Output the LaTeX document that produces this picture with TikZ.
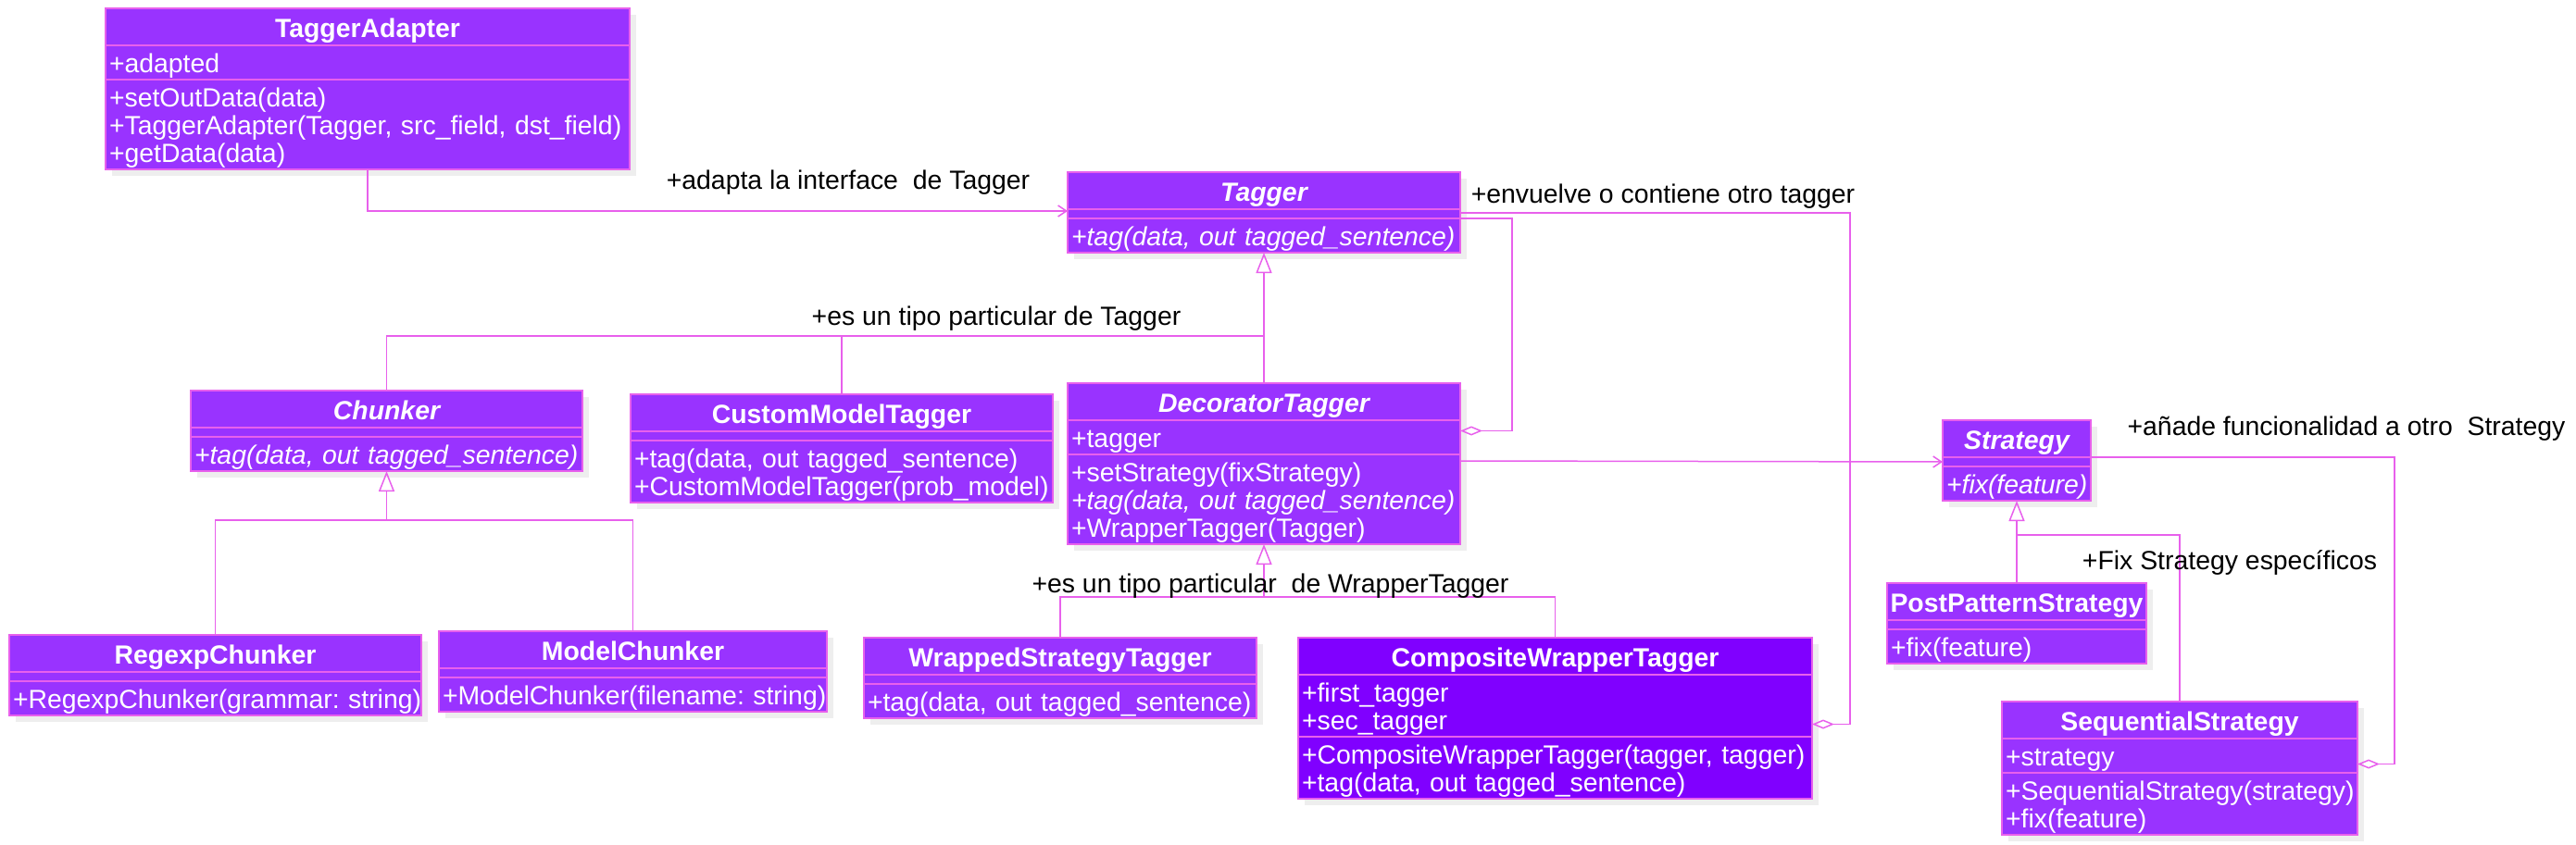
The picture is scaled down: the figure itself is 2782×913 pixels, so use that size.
\documentclass[tikz,border=0pt]{standalone}
\usepackage{fontspec}
\setmainfont{Liberation Sans}
\usepackage{tikz}
\usetikzlibrary{arrows.meta,shadows}

\definecolor{umlfill}{RGB}{153,51,255}
\definecolor{umldark}{RGB}{128,0,255}
\definecolor{umlline}{RGB}{232,96,236}
\definecolor{umlshade}{RGB}{238,238,238}

\newcommand{\clsfont}{\fontsize{28.4}{30}\selectfont\frenchspacing}
\newcommand{\compart}[1]{\if\relax\detokenize{#1}\relax\else\raisebox{-5pt}[\height][\depth]{\begin{tabular}{@{}l@{}}#1\end{tabular}}\fi}
% one class box: header, attributes, operations
\newcommand{\umlclass}[7][]{%
	\pgfmathsetmacro\partw{#4-8}%
	\node[clshead, minimum width=#4pt, #1] (#2) at (#3) {#5};
	\node[clspart, text width=\partw pt, #1] (#2-attr) at (#2.south) {\compart{#6}};
	\node[clspart, text width=\partw pt, #1] (#2-ops) at (#2-attr.south) {\compart{#7}};
}

\tikzset{
	clsbase/.style={draw=umlline, line width=1.5pt, fill=umlfill, text=white, outer sep=0pt,
		drop shadow={shadow xshift=7pt, shadow yshift=-7pt, fill=umlshade, opacity=1}},
	clshead/.style={clsbase, anchor=north west, inner sep=0pt, minimum height=40pt,
		text height=22pt, text depth=0pt, font=\clsfont\bfseries},
	clspart/.style={clsbase, anchor=north, inner xsep=4pt, inner ysep=3.5pt, minimum height=10pt, font=\clsfont},
	link/.style={draw=umlline, line width=1.5pt},
	gen/.style={link, -{Triangle[open, length=22pt, width=17pt]}},
	assoc/.style={link, -{Straight Barb[length=9pt, width=12pt]}},
	aggr/.style={link, {Diamond[open, length=24pt, width=10pt]}-},
	note/.style={font=\clsfont, text=black, inner sep=0pt}
}

\begin{document}
\begin{tikzpicture}[x=1pt, y=-1pt]
	\useasboundingbox (0,0) rectangle (2782,913);

	% classes
	\umlclass{adapter}{114,9}{566}{TaggerAdapter}{+adapted}{+setOutData(data)\\+TaggerAdapter(Tagger, src\_field, dst\_field)\\+getData(data)}
	\umlclass{tagger}{1153,186}{424}{\itshape Tagger}{}{\itshape +tag(data, out tagged\_sentence)}
	\umlclass{decorator}{1153,414}{424}{\itshape DecoratorTagger}{+tagger}{+setStrategy(fixStrategy)\\\itshape +tag(data, out tagged\_sentence)\\+WrapperTagger(Tagger)}
	\umlclass{chunker}{206,422}{423}{\itshape Chunker}{}{\itshape +tag(data, out tagged\_sentence)}
	\umlclass{custom}{681,426}{456}{CustomModelTagger}{}{+tag(data, out tagged\_sentence)\\+CustomModelTagger(prob\_model)}
	\umlclass{regexp}{10,686}{445}{RegexpChunker}{}{+RegexpChunker(grammar: string)}
	\umlclass{model}{474,682}{419}{ModelChunker}{}{+ModelChunker(filename: string)}
	\umlclass{wrapped}{933,689}{424}{WrappedStrategyTagger}{}{+tag(data, out tagged\_sentence)}
	\umlclass[fill=umldark]{composite}{1402,689}{555}{CompositeWrapperTagger}{+first\_tagger\\+sec\_tagger}{+CompositeWrapperTagger(tagger, tagger)\\+tag(data, out tagged\_sentence)}
	\umlclass{strategy}{2098,454}{160}{\itshape Strategy}{}{\itshape +fix(feature)}
	\umlclass{postpattern}{2038,630}{280}{PostPatternStrategy}{}{+fix(feature)}
	\umlclass{sequential}{2162,758}{384}{SequentialStrategy}{+strategy}{+SequentialStrategy(strategy)\\+fix(feature)}

	% generalisations
	\coordinate (tagJoin) at (tagger-ops.south |- 0,363);
	\draw[gen] (decorator.north) -- (tagger-ops.south);
	\draw[link] (chunker.north) |- (tagJoin);
	\draw[link] (custom.north) -- (custom.north |- tagJoin);
	\coordinate (chunkJoin) at (chunker-ops.south |- 0,562);
	\draw[gen] (chunkJoin) -- (chunker-ops.south);
	\foreach \cls in {regexp,model}
		\draw[link] (\cls.north) |- (chunkJoin);
	\coordinate (wrapJoin) at (decorator-ops.south |- 0,645);
	\draw[gen] (wrapJoin) -- (decorator-ops.south);
	\foreach \cls in {wrapped,composite}
		\draw[link] (\cls.north) |- (wrapJoin);
	\draw[gen] (postpattern.north) -- (strategy-ops.south);
	\draw[link] (sequential.north) |- (strategy-ops.south |- 0,578);

	% associations
	\draw[assoc] (adapter-ops.south) |- ([yshift=-2pt]tagger.south west);
	\draw[assoc] ([yshift=-7pt]decorator-ops.north east) -- (strategy-attr.west);
	\draw[aggr] ([yshift=7pt]decorator-attr.east) -- ++(56,0) |- (tagger-ops.north east);
	\draw[aggr] ([yshift=-20pt]composite-attr.east) -- ++(41,0) |- ([yshift=-4pt]tagger.south east);
	\draw[aggr] ([yshift=-9pt]sequential-attr.east) -- ++(40,0) |- (strategy.south east);

	% labels
	\node[note] (adaptLbl) at (916,197) {+adapta la interface\ \ de Tagger};
	\node[note] (taggerLbl) at (1076,344) {+es un tipo particular de Tagger};
	\node[note] (wrapLbl) at (1372,633) {+es un tipo particular\ \ de WrapperTagger};
	\node[note] (wrapsLbl) at (1796,212) {+envuelve o contiene otro tagger};
	\node[note] (addsLbl) at (2534,463) {+añade funcionalidad a otro\ \ Strategy};
	\node[note] (fixLbl) at (2408,608) {+Fix Strategy específicos};
\end{tikzpicture}
\end{document}
